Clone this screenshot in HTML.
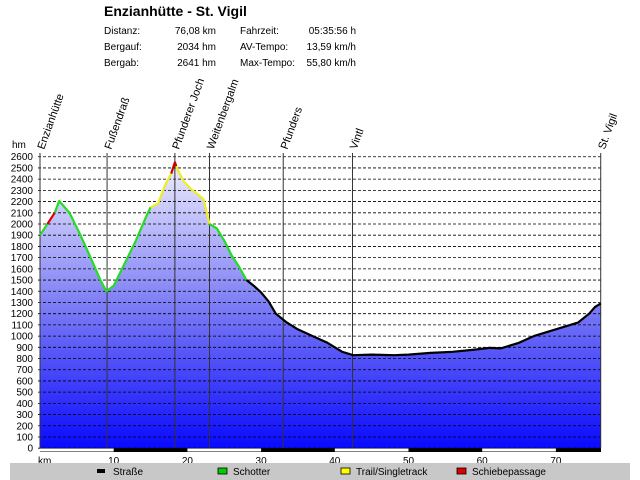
<!DOCTYPE html>
<html><head><meta charset="utf-8"><style>
body{margin:0;width:640px;height:480px;background:#fff;overflow:hidden}
svg{display:block;font-family:"Liberation Sans",sans-serif}
</style></head><body>
<svg id="s" width="640" height="480" xmlns="http://www.w3.org/2000/svg">
<defs><linearGradient id="g" x1="0" y1="157" x2="0" y2="448" gradientUnits="userSpaceOnUse">
<stop offset="0" stop-color="#f2f2ff"/><stop offset="0.5" stop-color="#7f7ff5"/><stop offset="1" stop-color="#0a0aff"/></linearGradient></defs>
<text x="104" y="16" font-size="14" font-weight="bold">Enzianhütte - St. Vigil</text>
<g font-size="10">
<text x="104" y="34">Distanz:</text><text x="216" y="34" text-anchor="end">76,08 km</text>
<text x="240" y="34">Fahrzeit:</text><text x="356" y="34" text-anchor="end">05:35:56 h</text>
<text x="104" y="50">Bergauf:</text><text x="216" y="50" text-anchor="end">2034 hm</text>
<text x="240" y="50">AV-Tempo:</text><text x="356" y="50" text-anchor="end">13,59 km/h</text>
<text x="104" y="66">Bergab:</text><text x="216" y="66" text-anchor="end">2641 hm</text>
<text x="240" y="66">Max-Tempo:</text><text x="356" y="66" text-anchor="end">55,80 km/h</text>
</g>
<g id="main"></g>
<rect x="10" y="463" width="620" height="17" fill="#c8c8c8"/>
<g font-size="10">
<rect x="97" y="469" width="8" height="4" fill="#000"/><text x="113" y="475">Straße</text>
<rect x="218" y="468" width="9" height="6" fill="#0c0" stroke="#000" stroke-width="0.8"/><text x="233" y="475">Schotter</text>
<rect x="341" y="468" width="9" height="6" fill="#ff0" stroke="#000" stroke-width="0.8"/><text x="356" y="475">Trail/Singletrack</text>
<rect x="457" y="468" width="9" height="6" fill="#d00" stroke="#000" stroke-width="0.8"/><text x="472" y="475">Schiebepassage</text>
</g>
</svg>
<script>
var X=k=>40+k*7.37, Y=e=>448.2-e*0.1121;
var P=[[0,1900],[1,2000],[2,2100],[2.6,2205],[4,2100],[5.5,1900],[7,1680],[8.2,1500],[9,1400],[10,1450],[11.5,1650],[13,1850],[14.3,2050],[15,2150],[16,2180],[17,2350],[17.8,2450],[18.3,2550],[18.7,2480],[19.5,2380],[20.5,2310],[21.5,2260],[22.2,2220],[23,2000],[24,1960],[25,1850],[26,1720],[27,1620],[28,1500],[29,1450],[30,1390],[31,1310],[32,1200],[33.5,1120],[35,1060],[37,1000],[39,940],[41,860],[42.5,830],[45,835],[48,830],[50,835],[53,850],[56,860],[59,880],[61,895],[62.5,890],[65,940],[67,1000],[69,1040],[71,1080],[73,1120],[74.5,1200],[75.3,1260],[76.08,1290]];
var segs=[[0,1,'#2d2'],[1,2,'#d00'],[2,15,'#2d2'],[15,17.8,'#ee2'],[17.8,18.5,'#c00'],[18.5,23,'#ee2'],[23,28,'#2d2'],[28,76.08,'#000']];
var h='';
function pt(k){for(var i=1;i<P.length;i++){if(P[i][0]>=k){var a=P[i-1],b=P[i],t=(k-a[0])/(b[0]-a[0]);return [k,a[1]+t*(b[1]-a[1])]}}return P[P.length-1]}
var d='M'+X(0)+','+Y(0);P.forEach(p=>d+=' L'+X(p[0]).toFixed(1)+','+Y(p[1]).toFixed(1));d+=' L'+X(76.08)+','+Y(0)+'Z';
h+='<path d="'+d+'" fill="url(#g)"/>';
for(var e=0;e<=2600;e+=100){var y=Y(e);h+='<line x1="38" x2="601" y1="'+y+'" y2="'+y+'" stroke="#000" stroke-width="0.8" stroke-dasharray="3,2"/>';h+='<text x="33" y="'+(y+3.5)+'" font-size="10" text-anchor="end">'+e+'</text>';}
h+='<text x="12" y="148" font-size="10">hm</text>';
var M=[[0,'Enzianhütte'],[9.1,'Fußendraß'],[18.3,'Pfunderer Joch'],[23,'Weitenbergalm'],[33,'Pfunders'],[42.4,'Vintl'],[76.08,'St. Vigil']];
M.forEach(m=>{var x=X(m[0]);h+='<line x1="'+x+'" x2="'+x+'" y1="153" y2="448" stroke="#333" stroke-width="1"/>';h+='<text transform="translate('+(x+4)+',150) rotate(-70)" font-size="11">'+m[1]+'</text>';});
segs.forEach(s=>{var pts=[pt(s[0])];P.forEach(p=>{if(p[0]>s[0]&&p[0]<s[1])pts.push(p)});pts.push(pt(s[1]));h+='<polyline points="'+pts.map(p=>X(p[0]).toFixed(1)+','+Y(p[1]).toFixed(1)).join(' ')+'" fill="none" stroke="'+s[2]+'" stroke-width="2.2" stroke-linejoin="round"/>';});
h+='<rect x="40" y="448" width="561" height="4" fill="#000"/>';
for(var k=0;k<76;k+=20)h+='<rect x="'+X(k)+'" y="448.5" width="'+(7.37*10)+'" height="3" fill="#fff"/>';
h+='<text x="38" y="464" font-size="10">km</text>';
for(var k=10;k<=70;k+=10)h+='<text x="'+X(k)+'" y="464" font-size="10" text-anchor="middle">'+k+'</text>';
document.getElementById('main').innerHTML=h;
</script>
</body></html>
